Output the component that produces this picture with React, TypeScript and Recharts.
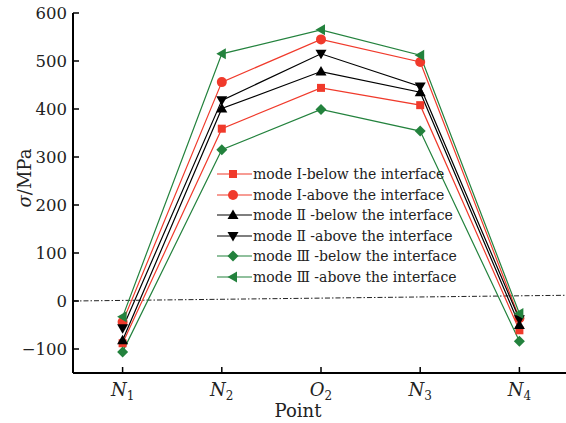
import React from 'react';
import { LineChart, Line, XAxis, YAxis, Legend } from 'recharts';

// positions along the x axis and their labels (letter + subscript)
const pointX = [1, 2, 3, 4, 5];
const tickLetters = ['N', 'N', 'O', 'N', 'N'];
const tickSubs = ['1', '2', '2', '3', '4'];

// stress values (MPa) read at N1, N2, O2, N3, N4
const modeIBelow = [-88, 359, 444, 408, -61];
const modeIAbove = [-44, 456, 545, 498, -36];
const modeIIBelow = [-82, 401, 478, 435, -50];
const modeIIAbove = [-57, 418, 515, 447, -38];
const modeIIIBelow = [-106, 315, 399, 354, -84];
const modeIIIAbove = [-33, 515, 565, 512, -26];

// dash-dot reference line near zero
const baselineX = [0.5, 5.5];
const baselineY = [0, 12];

const yTicks = [-100, 0, 100, 200, 300, 400, 500, 600];

const RED = '#f03a2b';
const GREEN = '#23823d';
const BLACK = '#000000';
const FONT = '"DejaVu Serif", "Liberation Serif", serif';

const data = pointX.map((x, i) => ({
  x,
  iBelow: modeIBelow[i],
  iAbove: modeIAbove[i],
  iiBelow: modeIIBelow[i],
  iiAbove: modeIIAbove[i],
  iiiBelow: modeIIIBelow[i],
  iiiAbove: modeIIIAbove[i],
}));

const baseline = baselineX.map((x, i) => ({ x, y: baselineY[i] }));

type Shape = 'square' | 'circle' | 'up' | 'down' | 'diamond' | 'left';

const series: { key: string; name: string; color: string; shape: Shape }[] = [
  { key: 'iBelow', name: 'mode I-below the interface', color: RED, shape: 'square' },
  { key: 'iAbove', name: 'mode I-above the interface', color: RED, shape: 'circle' },
  { key: 'iiBelow', name: 'mode Ⅱ -below the interface', color: BLACK, shape: 'up' },
  { key: 'iiAbove', name: 'mode Ⅱ -above the interface', color: BLACK, shape: 'down' },
  { key: 'iiiBelow', name: 'mode Ⅲ -below the interface', color: GREEN, shape: 'diamond' },
  { key: 'iiiAbove', name: 'mode Ⅲ -above the interface', color: GREEN, shape: 'left' },
];

function Marker({ cx, cy, shape, color }: { cx: number; cy: number; shape: Shape; color: string }) {
  if (cx == null || cy == null) return null;
  switch (shape) {
    case 'square':
      return <rect x={cx - 4} y={cy - 4} width={8} height={8} fill={color} />;
    case 'circle':
      return <circle cx={cx} cy={cy} r={5} fill={color} />;
    case 'up':
      return <polygon points={`${cx},${cy - 5.5} ${cx + 5.5},${cy + 4} ${cx - 5.5},${cy + 4}`} fill={color} />;
    case 'down':
      return <polygon points={`${cx},${cy + 5.5} ${cx + 5.5},${cy - 4} ${cx - 5.5},${cy - 4}`} fill={color} />;
    case 'diamond':
      return <polygon points={`${cx},${cy - 5.5} ${cx + 5.5},${cy} ${cx},${cy + 5.5} ${cx - 5.5},${cy}`} fill={color} />;
    case 'left':
      return <polygon points={`${cx - 5.5},${cy} ${cx + 4},${cy - 5.5} ${cx + 4},${cy + 5.5}`} fill={color} />;
  }
  return null;
}

const XTick = (props: any) => {
  const { x, y, payload } = props;
  const i = pointX.indexOf(payload.value);
  return (
    <text x={x} y={y + 23} textAnchor="middle" fontFamily={FONT} fontSize={18} fill="#222">
      <tspan fontStyle="italic">{tickLetters[i]}</tspan>
      <tspan fontSize={12} dy={4}>{tickSubs[i]}</tspan>
    </text>
  );
};

const renderLegend = (props: any) => {
  const payload: any[] = props.payload || [];
  return (
    <div style={{ fontFamily: FONT, fontSize: 14, color: '#222' }}>
      {series.map((s) => {
        const entry = payload.find((p) => p.dataKey === s.key);
        if (!entry) return null;
        return (
          <div key={s.key} style={{ display: 'flex', alignItems: 'center', height: 20.5, whiteSpace: 'nowrap' }}>
            <svg width={35} height={14} style={{ display: 'block' }}>
              <line x1={0} x2={35} y1={7} y2={7} stroke={s.color} strokeWidth={1.2} />
              <Marker cx={16} cy={7} shape={s.shape} color={s.color} />
            </svg>
            <span style={{ marginLeft: 1 }}>{entry.value}</span>
          </div>
        );
      })}
    </div>
  );
};

export default function App() {
  return (
    <div style={{ position: 'fixed', left: 0, top: 0, width: 566, height: 423, overflow: 'hidden', background: '#fff' }}>
      <LineChart width={600} height={423} data={data} margin={{ top: 13, right: 31, bottom: 0, left: 0 }}>
        <XAxis
          dataKey="x"
          type="number"
          domain={[0.5, 5.5]}
          ticks={pointX}
          tick={<XTick />}
          tickSize={-6}
          tickMargin={6}
          height={50}
          axisLine={{ stroke: '#000', strokeWidth: 2 }}
          tickLine={{ stroke: '#000', strokeWidth: 1.5 }}
          allowDataOverflow
        />
        <XAxis
          xAxisId="top"
          orientation="top"
          dataKey="x"
          type="number"
          domain={[0.5, 5.5]}
          height={0}
          tick={false}
          tickLine={false}
          axisLine={{ stroke: '#000', strokeWidth: 1.5 }}
        />
        <YAxis
          type="number"
          domain={[-150, 600]}
          ticks={yTicks}
          width={73}
          tickSize={-6}
          tickMargin={12}
          axisLine={{ stroke: '#000', strokeWidth: 2 }}
          tickLine={{ stroke: '#000', strokeWidth: 1.5 }}
          tick={{ fontFamily: FONT, fontSize: 16.5, fill: '#222' }}
          tickFormatter={(v: number) => String(v).replace('-', '−')}
          allowDataOverflow
          label={{
            content: () => (
              <text
                x={24}
                y={178}
                transform="rotate(-90 24 178)"
                textAnchor="middle"
                dominantBaseline="central"
                fontFamily={FONT}
                fontSize={18}
                fill="#222"
              >
                <tspan fontStyle="italic">σ</tspan>
                <tspan>/MPa</tspan>
              </text>
            ),
          }}
        />
        <Line
          data={baseline}
          dataKey="y"
          type="linear"
          stroke="#222"
          strokeWidth={1}
          strokeDasharray="5 2 1.5 2"
          dot={false}
          activeDot={false}
          legendType="none"
          isAnimationActive={false}
        />
        {series.map((s) => (
          <Line
            key={s.key}
            dataKey={s.key}
            name={s.name}
            type="linear"
            stroke={s.color}
            strokeWidth={1.2}
            isAnimationActive={false}
            activeDot={false}
            dot={(p: any) => <Marker key={`${s.key}-${p.index}`} cx={p.cx} cy={p.cy} shape={s.shape} color={s.color} />}
          />
        ))}
        <Legend
          layout="vertical"
          align="center"
          verticalAlign="middle"
          content={renderLegend}
          wrapperStyle={{ left: 217, top: 164, width: 'auto' }}
        />
        <text x={298} y={417} textAnchor="middle" fontFamily={FONT} fontSize={18} fill="#222">
          Point
        </text>
      </LineChart>
    </div>
  );
}
